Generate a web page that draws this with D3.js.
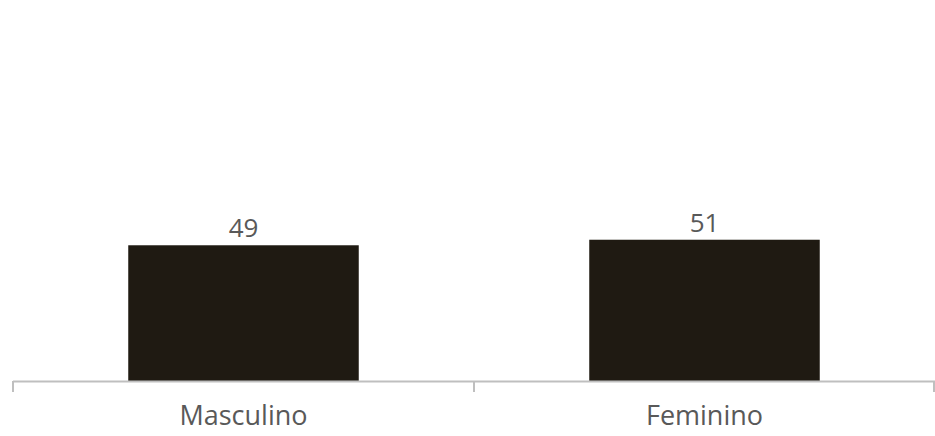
<!DOCTYPE html>
<html>
<head>
<meta charset="utf-8">
<script src="https://cdn.jsdelivr.net/npm/d3@7"></script>
<style>
  html, body { margin: 0; padding: 0; background: #ffffff; }
  svg { display: block; }
</style>
</head>
<body>
<svg id="chart" width="935" height="436"></svg>
<script>
// Distribution by sex (%)
const categories = ["Masculino", "Feminino"];
const values = [49, 51];
const yMax = 100;

const width = 935, height = 436;
const margin = { top: 104, right: 0, bottom: 55, left: 13 };
const baseline = height - margin.bottom;

const svg = d3.select("#chart");

const x = d3.scaleBand()
  .domain(categories)
  .range([margin.left, width])
  .paddingInner(0.5)
  .paddingOuter(0.25);

const y = d3.scaleLinear()
  .domain([0, yMax])
  .range([baseline, margin.top]);

// Bars
svg.append("g")
  .selectAll("rect")
  .data(categories)
  .join("rect")
  .attr("x", d => x(d))
  .attr("width", x.bandwidth())
  .attr("y", (d, i) => y(values[i]))
  .attr("height", (d, i) => y(0) - y(values[i]))
  .attr("fill", "#1f1a12");

// Value labels
svg.append("g")
  .selectAll("text")
  .data(categories)
  .join("text")
  .attr("x", d => x(d) + x.bandwidth() / 2)
  .attr("y", (d, i) => y(values[i]) - 8)
  .attr("text-anchor", "middle")
  .attr("font-family", "'Open Sans', sans-serif")
  .attr("font-size", 26)
  .attr("fill", "#595959")
  .text((d, i) => values[i]);

// Category axis with boundary ticks between bands
const axisG = svg.append("g")
  .attr("transform", `translate(0,${baseline})`);

axisG.append("line")
  .attr("x1", margin.left).attr("x2", width)
  .attr("y1", 0.5).attr("y2", 0.5)
  .attr("stroke", "#bfbfbf")
  .attr("stroke-width", 2);

const boundaries = [margin.left, ...categories.slice(1).map(c => x(c) - x.step() * x.paddingInner() / 2), width - 1];
axisG.selectAll("line.tick")
  .data(boundaries)
  .join("line")
  .attr("class", "tick")
  .attr("x1", d => d).attr("x2", d => d)
  .attr("y1", 0).attr("y2", 11)
  .attr("stroke", "#bfbfbf")
  .attr("stroke-width", 2);

axisG.selectAll("text")
  .data(categories)
  .join("text")
  .attr("x", d => x(d) + x.bandwidth() / 2)
  .attr("y", 44)
  .attr("text-anchor", "middle")
  .attr("font-family", "'Open Sans', sans-serif")
  .attr("font-size", 27)
  .attr("fill", "#595959")
  .text(d => d);
</script>
</body>
</html>
